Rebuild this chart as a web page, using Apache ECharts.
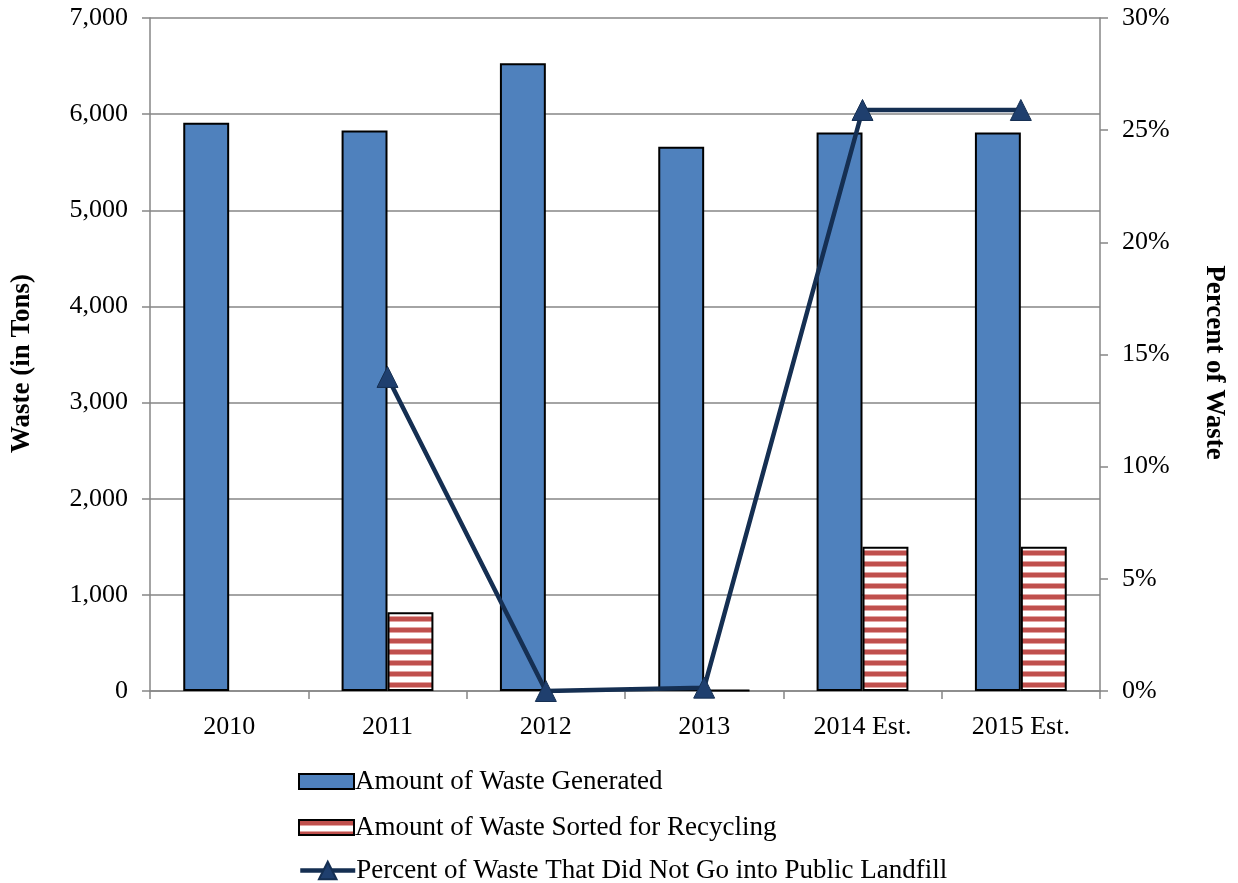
<!DOCTYPE html>
<html>
<head>
<meta charset="utf-8">
<script src="https://cdn.jsdelivr.net/npm/echarts@6/dist/echarts.min.js"></script>
<style>
  html, body { margin: 0; padding: 0; background: #fff; }
  #chart { width: 1238px; height: 883px; }
</style>
</head>
<body>
<div id="chart"></div>
<script>
const years = ['2010', '2011', '2012', '2013', '2014 Est.', '2015 Est.']
const wasteGenerated = [5910, 5830, 6530, 5660, 5810, 5810]
const wasteRecycled = [null, 820, null, 12, 1500, 1500]
const percentDiverted = [null, 14.0, 0, 0.15, 25.9, 25.9]
const legendNames = [
  'Amount of Waste Generated',
  'Amount of Waste Sorted for Recycling',
  'Percent of Waste That Did Not Go into Public Landfill'
]

// horizontal red/white stripes like the office pattern fill
function stripes () {
  const c = document.createElement('canvas')
  c.width = 4
  c.height = 11
  const ctx = c.getContext('2d')
  ctx.fillStyle = '#ffffff'
  ctx.fillRect(0, 0, 4, 11)
  ctx.fillStyle = '#e3a5a3'
  ctx.fillRect(0, 0, 4, 1)
  ctx.fillRect(0, 5, 4, 1)
  ctx.fillStyle = '#c0504d'
  ctx.fillRect(0, 1, 4, 4)
  return c
}

const font = 'Liberation Serif'
const axisGray = '#868686'
const labelSize = 26

// one legend per row so the rows sit where the reference has them
const legendTops = [768, 814, 857]
const legends = legendNames.map((n, i) => ({
  orient: 'vertical',
  left: 298,
  top: legendTops[i],
  padding: 0,
  itemWidth: 55,
  itemHeight: i < 2 ? 15 : 22,
  icon: i < 2 ? 'rect' : undefined,
  lineStyle: { width: 4.5 },
  textStyle: { fontFamily: font, fontSize: 27, color: '#000', padding: [0, 0, 0, -4] },
  data: [n]
}))

const myChart = echarts.init(document.getElementById('chart'))
const option = {
  animation: false,
  textStyle: { fontFamily: font, color: '#000' },
  grid: { left: 150, right: 138, top: 18, bottom: 192, containLabel: false },
  legend: legends,
  xAxis: {
    type: 'category',
    data: years,
    axisLine: { lineStyle: { color: axisGray, width: 1.5 } },
    axisTick: { show: true, length: 8, alignWithLabel: false, lineStyle: { color: axisGray, width: 1.5 } },
    axisLabel: { fontFamily: font, fontSize: labelSize, color: '#000', margin: 23 }
  },
  yAxis: [
    {
      type: 'value',
      min: 0,
      max: 7000,
      interval: 1000,
      name: 'Waste (in Tons)',
      nameLocation: 'middle',
      nameGap: 114,
      nameTextStyle: {
        fontFamily: font, fontSize: 27, fontWeight: 'bold', color: '#000',
        padding: [0, 18, 0, 0]
      },
      axisLine: { show: true, lineStyle: { color: axisGray, width: 1.5 } },
      axisTick: { show: true, length: 8, lineStyle: { color: axisGray, width: 1.5 } },
      axisLabel: {
        fontFamily: font, fontSize: labelSize, color: '#000', margin: 22,
        formatter: v => v.toLocaleString('en-US')
      },
      splitLine: { show: true, lineStyle: { color: axisGray, width: 1.5 } }
    },
    {
      type: 'value',
      min: 0,
      max: 30,
      interval: 5,
      position: 'right',
      name: 'Percent of Waste',
      nameLocation: 'middle',
      nameRotate: -90,
      nameGap: 100,
      nameTextStyle: {
        fontFamily: font, fontSize: 27, fontWeight: 'bold', color: '#000',
        padding: [0, 0, 0, 16]
      },
      axisLine: { show: true, lineStyle: { color: axisGray, width: 1.5 } },
      axisTick: { show: true, length: 8, lineStyle: { color: axisGray, width: 1.5 } },
      axisLabel: { fontFamily: font, fontSize: labelSize, color: '#000', margin: 22, formatter: '{value}%' },
      splitLine: { show: false }
    }
  ],
  series: [
    {
      name: legendNames[0],
      type: 'bar',
      data: wasteGenerated,
      barGap: '0%',
      barCategoryGap: '42%',
      itemStyle: { color: '#4f81bd', borderColor: '#000', borderWidth: 2 }
    },
    {
      name: legendNames[1],
      type: 'bar',
      data: wasteRecycled,
      itemStyle: {
        color: { image: stripes(), repeat: 'repeat' },
        borderColor: '#000',
        borderWidth: 2
      }
    },
    {
      name: legendNames[2],
      type: 'line',
      yAxisIndex: 1,
      data: percentDiverted,
      connectNulls: false,
      symbol: 'triangle',
      symbolSize: 21,
      lineStyle: { color: '#152f52', width: 4.5 },
      itemStyle: { color: '#1f3f6e', borderColor: '#152f52', borderWidth: 1 }
    }
  ]
}
myChart.setOption(option)
</script>
</body>
</html>
